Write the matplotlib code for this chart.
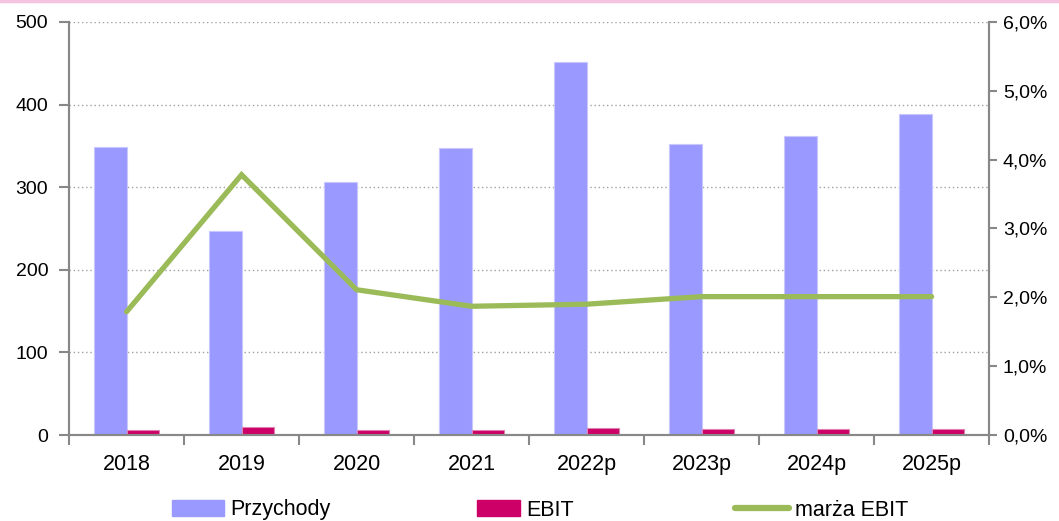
import matplotlib
matplotlib.use("Agg")
import matplotlib.pyplot as plt
import numpy as np
from matplotlib.lines import Line2D
from matplotlib.ticker import FuncFormatter, FixedLocator

years = ['2018', '2019', '2020', '2021', '2022p', '2023p', '2024p', '2025p']
revenue = [348, 247, 306, 347, 452, 352, 362, 389]
ebit = [6.3, 9.4, 6.4, 6.4, 8.5, 7.0, 7.2, 7.8]
margin = [1.79, 3.78, 2.11, 1.87, 1.90, 2.01, 2.01, 2.01]

plt.rcParams['font.family'] = ['Liberation Sans', 'DejaVu Sans']
plt.rcParams['font.size'] = 15.5

fig = plt.figure(figsize=(10.59, 5.21), dpi=100)
ax = fig.add_axes([0.0652, 0.165, 0.8688, 0.793])
ax2 = ax.twinx()

x = np.arange(len(years))
w = 0.285
ax.bar(x - w / 2, revenue, w, color='#9999FF', edgecolor='#c8c8ff', linewidth=0.8,
       label='Przychody', zorder=2)
ax.bar(x + w / 2, ebit, w, color='#CC0066', edgecolor='#e080b0', linewidth=0.8,
       label='EBIT', zorder=2)
ax2.plot(x, margin, color='#9BBB59', linewidth=3.8, solid_capstyle='round',
         solid_joinstyle='miter', label='marża EBIT', zorder=3)

ax.set_xlim(-0.5, len(years) - 0.5)
ax.set_ylim(0, 500)
ax.set_yticks(range(0, 501, 100))
ax2.set_ylim(0, 6)
ax2.set_yticks(range(0, 7))
ax2.yaxis.set_major_formatter(FuncFormatter(lambda v, p: f'{v:.1f}'.replace('.', ',') + '%'))

ax.yaxis.grid(True, linestyle=(0, (1, 2)), color='#a0a0a0', linewidth=1.0, zorder=0)
ax.set_axisbelow(True)

ax.set_xticks(x)
ax.set_xticklabels(years)
ax.xaxis.set_minor_locator(FixedLocator(np.arange(-0.5, len(years), 1.0)))
ax.tick_params(axis='x', which='major', length=0, pad=14)
ax.tick_params(axis='x', which='minor', length=7, width=1.5, color='#888888', direction='out')
ax.tick_params(axis='y', length=7, width=1.5, color='#888888', pad=8, labelsize=14)
ax2.tick_params(axis='y', length=6, width=1.5, color='#888888', pad=4, labelsize=14)

for a in (ax, ax2):
    a.spines['top'].set_visible(False)
    for s in ('left', 'right', 'bottom'):
        a.spines[s].set_color('#888888')
        a.spines[s].set_linewidth(1.5)

# pink border line at top of figure
fig.add_artist(Line2D([0, 1], [0.999, 0.999], color='#f4c4e0', linewidth=2.5,
                      transform=fig.transFigure))

# legend entries placed separately, as in the reference
entries = [
    (plt.Rectangle((0, 0), 1, 1, color='#9999FF'), 'Przychody', 172, 2.4),
    (plt.Rectangle((0, 0), 1, 1, color='#CC0066'), 'EBIT', 477, 2.0),
    (Line2D([0], [0], color='#9BBB59', linewidth=4.5, solid_capstyle='round'),
     'marża EBIT', 735, 2.5),
]
for h, lab, xp, hl in entries:
    fig.legend([h], [lab], loc='center left', bbox_to_anchor=(xp / 1059, 1 - 510 / 521),
               frameon=False, borderpad=0, borderaxespad=0, handlelength=hl,
               handleheight=0.75, handletextpad=0.3, fontsize=15.5)

fig.savefig('out.png', dpi=100)
